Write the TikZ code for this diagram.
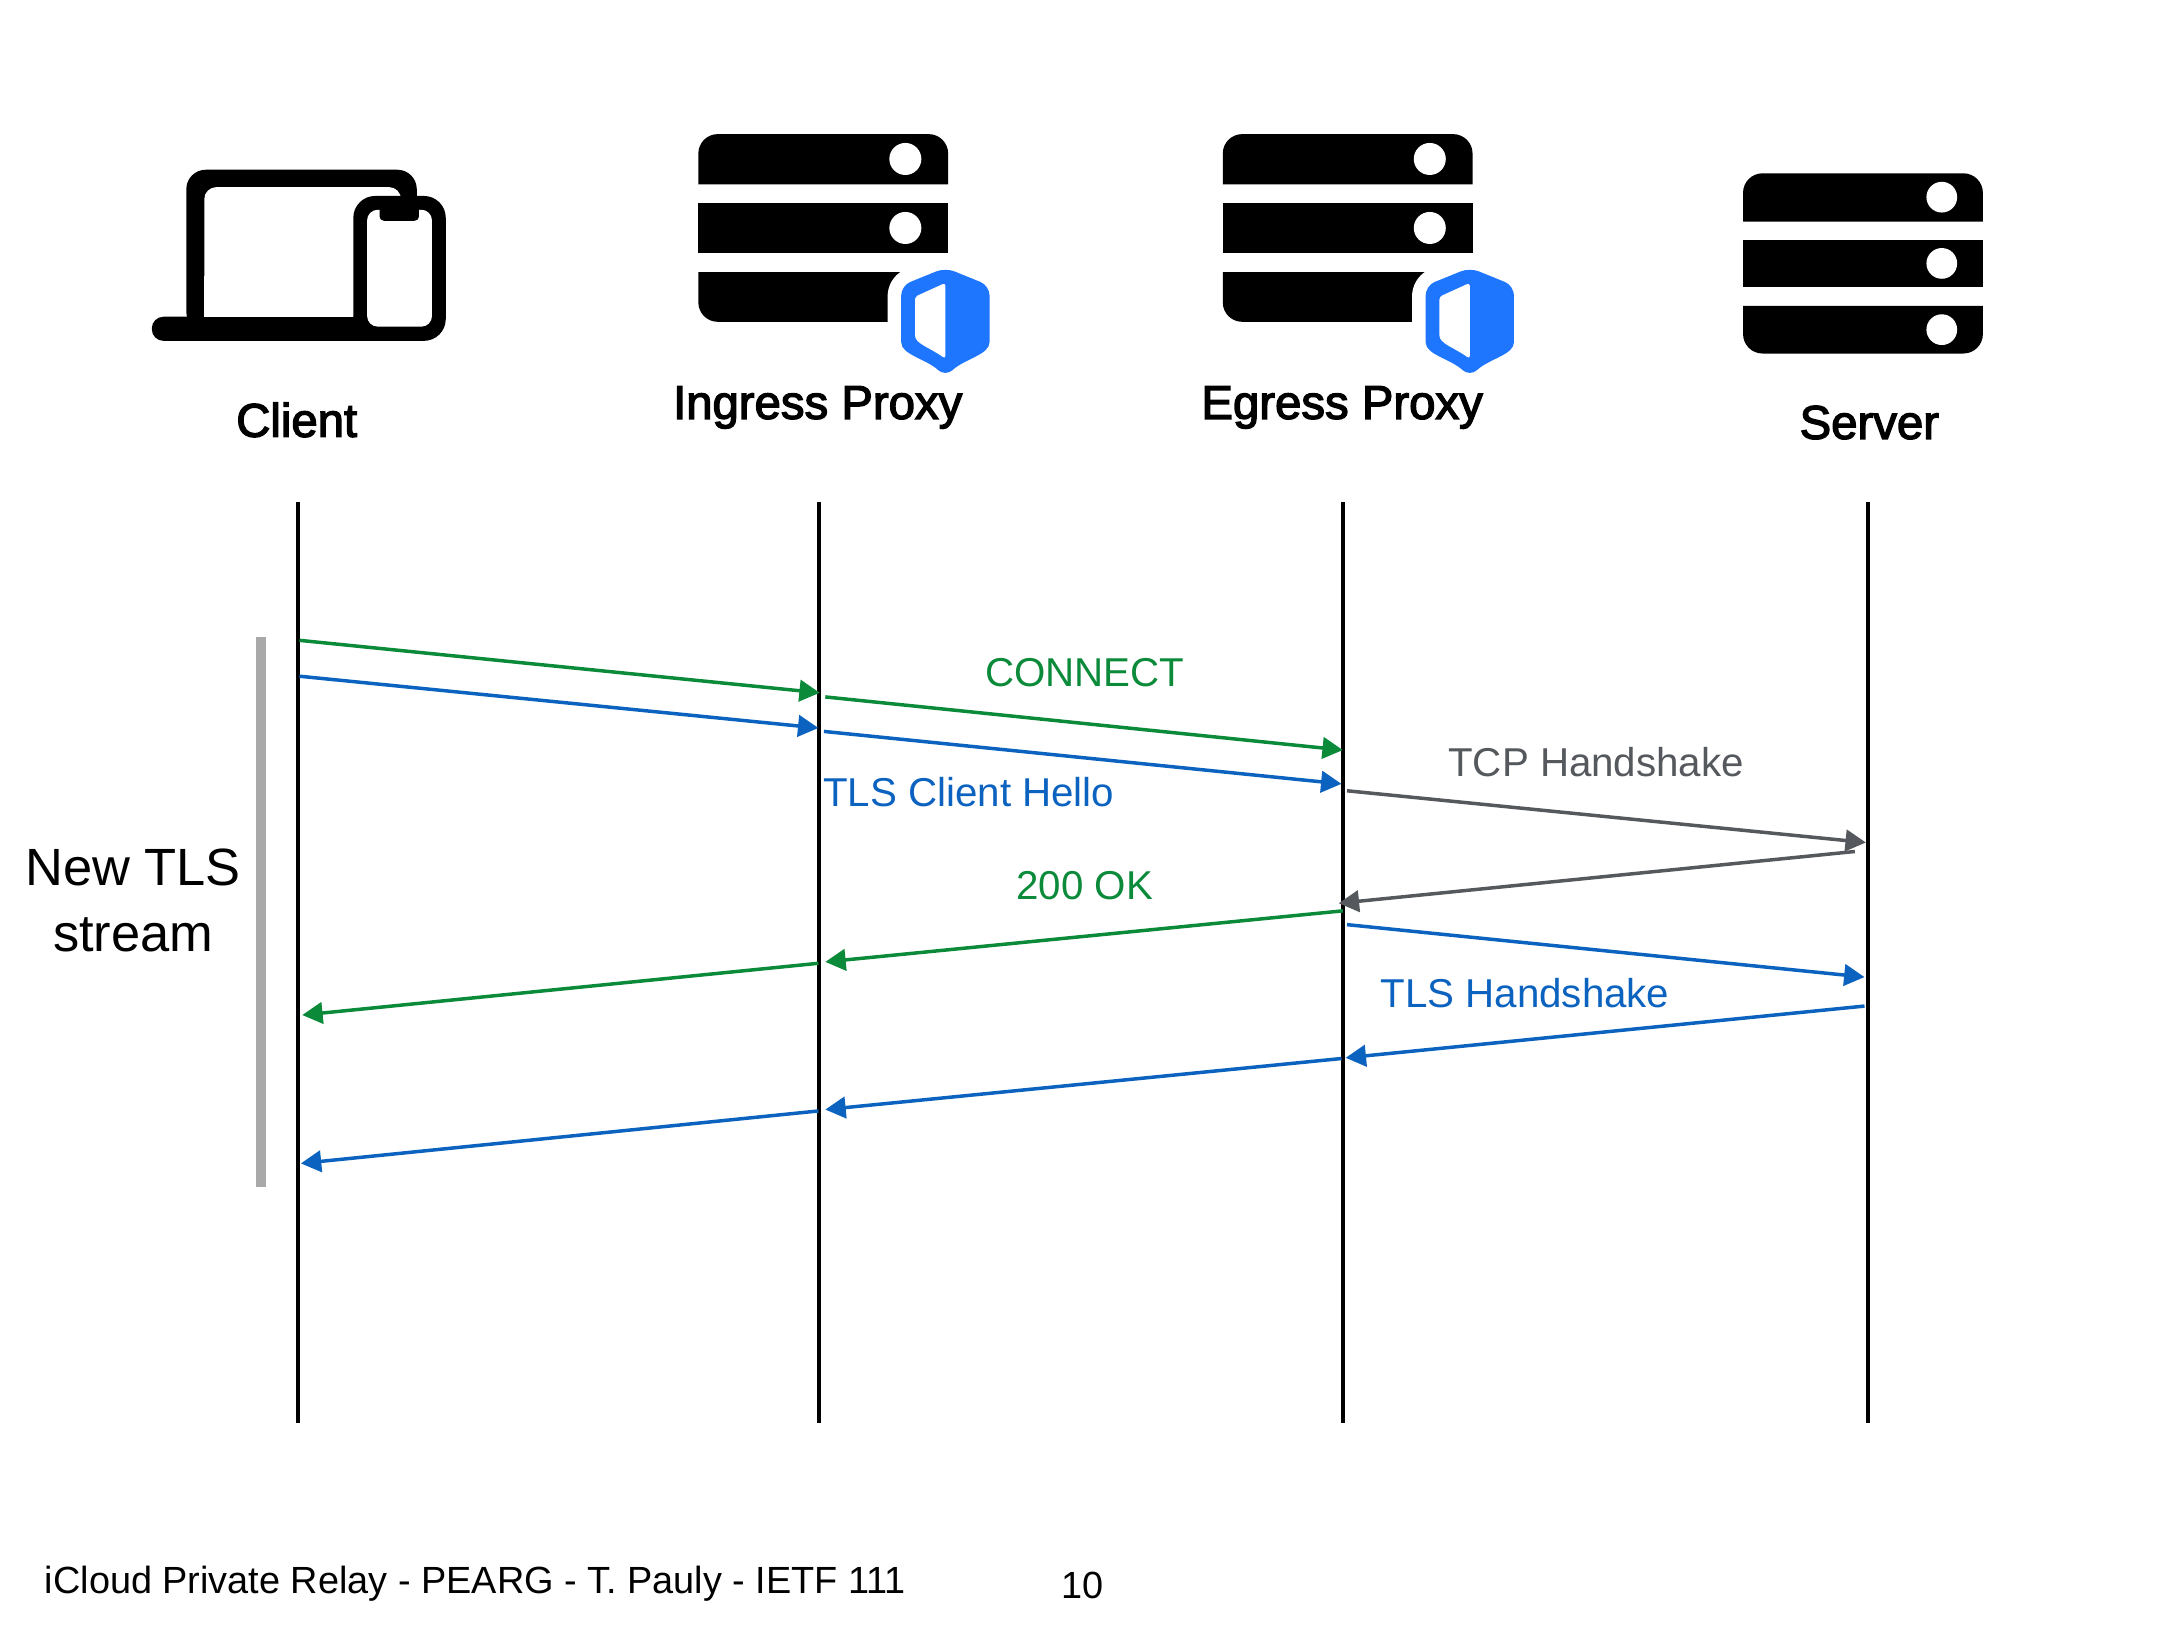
\documentclass[tikz,border=0pt]{standalone}
\usepackage{fontspec}
\setmainfont{Liberation Sans}
\newfontfamily\headfont[FakeBold=2.8]{Liberation Sans}
\usetikzlibrary{arrows.meta}

\definecolor{msggreen}{HTML}{0B8A3A}
\definecolor{msgblue}{HTML}{0B62BF}
\definecolor{msggrey}{HTML}{55585C}
\definecolor{barfill}{HTML}{A9A9A9}
\definecolor{shieldblue}{HTML}{1E76FF}

% rack of three bars, origin at the top left corner
\newcommand{\rackicon}[2]{
  \begin{scope}[shift={(#1)}, scale=#2]
    \fill (0,36.5) [rounded corners=4pt] -- (0,0) -- (181,0) [sharp corners] -- (181,36.5) -- cycle;
    \fill (0,50) rectangle (181,86);
    \fill (0,100) [rounded corners=4pt] -- (0,136) -- (181,136) [sharp corners] -- (181,100) -- cycle;
    \fill[white] (150,18) circle[radius=11.6] (150,68) circle[radius=11.6] (150,118) circle[radius=11.6];
  \end{scope}}
\newcommand{\shieldicon}[1]{
  \begin{scope}[shift={(#1)}]
    \fill[shieldblue, rounded corners=2pt, preaction={draw=white, line width=5.6pt, line join=round}]
      (179,97) -- (211,110) -- (211,144) .. controls (211,160) and (193,163) .. (179,176)
      .. controls (165,163) and (147,160) .. (147,144) -- (147,110) -- cycle;
    \fill[white, rounded corners=0.6pt]
      (179,108) -- (157,118) -- (157,144) .. controls (157,152) and (168,155) .. (179,163) -- cycle;
  \end{scope}}
% laptop with a phone in front of it
\newcommand{\clienticon}{
  \fill[rounded corners=4pt] (135,240) -- (135,123) -- (302,123) -- (302,240) -- cycle;
  \fill[white, rounded corners=2.5pt] (148,229.5) [sharp corners] -- (148,229.5) [rounded corners=2.5pt] -- (148,135.6) -- (290.6,135.6) -- (290.6,229.5) -- cycle;
  \fill[rounded corners=2.4pt] (110,229.5) rectangle (300,247);
  \fill[white] (148,200) rectangle (256,229.5);
  \fill[rounded corners=4.5pt] (256,142) rectangle (323,247);
  \fill[white, rounded corners=2.2pt] (266,152) rectangle (313,236.7);
  \fill[rounded corners=0.9pt] (275,148) rectangle (303.6,160);
}

\begin{document}
\begin{tikzpicture}[x=0.01cm, y=-0.01cm,
    lifeline/.style ={line width=0.85pt},
    message/.style ={line width=0.72pt, -{Triangle[length=4.2pt,width=4.4pt]}},
    actor/.style ={anchor=base, inner sep=0pt, font=\headfont\fontsize{9.75}{11}\selectfont},
    msglabel/.style ={anchor=base, inner sep=0pt, font=\fontsize{8.3}{10}\selectfont},
    footer/.style ={anchor=base, inner sep=0pt, font=\fontsize{7.8}{9}\selectfont}]
   \useasboundingbox (0,0) rectangle (1568,1177);

   \clienticon
   \rackicon{506,97.2}{1}
   \shieldicon{506,97}
   \rackicon{886,97.2}{1}
   \shieldicon{886,97}
   \rackicon{1263,125.6}{0.96}

   \node[actor] (client) at (215,316.5) {Client};
   \node[actor] (ingress) at (592.5,303.5) {Ingress Proxy};
   \node[actor] (egress) at (972.5,303.5) {Egress Proxy};
   \node[actor] (server) at (1354.5,318) {Server};

   \coordinate (clientTop) at (216.2,364);
   \coordinate (clientEnd) at (216.2,1031);
   \coordinate (ingressTop) at (593.3,364);
   \coordinate (ingressEnd) at (593.3,1031);
   \coordinate (egressTop) at (973.2,364);
   \coordinate (egressEnd) at (973.2,1031);
   \coordinate (serverTop) at (1353.3,364);
   \coordinate (serverEnd) at (1353.3,1031);
   \draw[lifeline] (clientTop) to (clientEnd);
   \draw[lifeline] (ingressTop) to (ingressEnd);
   \draw[lifeline] (egressTop) to (egressEnd);
   \draw[lifeline] (serverTop) to (serverEnd);

   \node[fill=barfill, minimum width=0.72mm, inner sep=0pt, minimum height=3.98cm, anchor=north west] (streambar) at (185,461) {};
   \node[anchor=base, inner sep=0pt, align=center, font=\fontsize{10.8}{13.7}\selectfont] (stream) at (96.5,689.5) {New TLS\\stream};

   % requests
   \coordinate (g1a) at (217,464);  \coordinate (g1b) at (594,502);
   \coordinate (g2a) at (598,505);  \coordinate (g2b) at (973,543.5);
   \coordinate (b1a) at (217,490);  \coordinate (b1b) at (593,527.5);
   \coordinate (b2a) at (597,530);  \coordinate (b2b) at (972,568);
   \coordinate (t1a) at (976,573);  \coordinate (t1b) at (1352,610.5);
   \coordinate (t2a) at (1344,617); \coordinate (t2b) at (970,654.5);
   % responses
   \coordinate (g3a) at (973,660);  \coordinate (g3b) at (598,697);
   \coordinate (g4a) at (593,698);  \coordinate (g4b) at (219,735.5);
   \coordinate (b3a) at (976,670);  \coordinate (b3b) at (1351,708);
   \coordinate (b4a) at (1351,729); \coordinate (b4b) at (975,766.5);
   \coordinate (b5a) at (972,767);  \coordinate (b5b) at (598,804);
   \coordinate (b6a) at (593,805);  \coordinate (b6b) at (218,843);

   \draw[message, msggreen] (g1a) to (g1b);
   \draw[message, msggreen] (g2a) to (g2b);
   \draw[message, msgblue] (b1a) to (b1b);
   \draw[message, msgblue] (b2a) to (b2b);
   \draw[message, msggrey] (t1a) to (t1b);
   \draw[message, msggrey] (t2a) to (t2b);
   \draw[message, msggreen] (g3a) to (g3b);
   \draw[message, msggreen] (g4a) to (g4b);
   \draw[message, msgblue] (b3a) to (b3b);
   \draw[message, msgblue] (b4a) to (b4b);
   \draw[message, msgblue] (b5a) to (b5b);
   \draw[message, msgblue] (b6a) to (b6b);

   \node[msglabel, text=msggreen] (connect) at (786,497.5) {CONNECT};
   \node[msglabel, text=msgblue] (hello) at (702,584.5) {TLS Client Hello};
   \node[msglabel, text=msggrey] (tcp) at (1156.5,562.5) {TCP Handshake};
   \node[msglabel, text=msggreen] (ok) at (786,652) {200 OK};
   \node[msglabel, text=msgblue] (tls) at (1105,730) {TLS Handshake};

   \node[footer] (title) at (344.5,1155) {iCloud Private Relay - PEARG - T. Pauly - IETF 111};
   \node[footer] (page) at (784.5,1158) {10};
 \end{tikzpicture}
\end{document}
